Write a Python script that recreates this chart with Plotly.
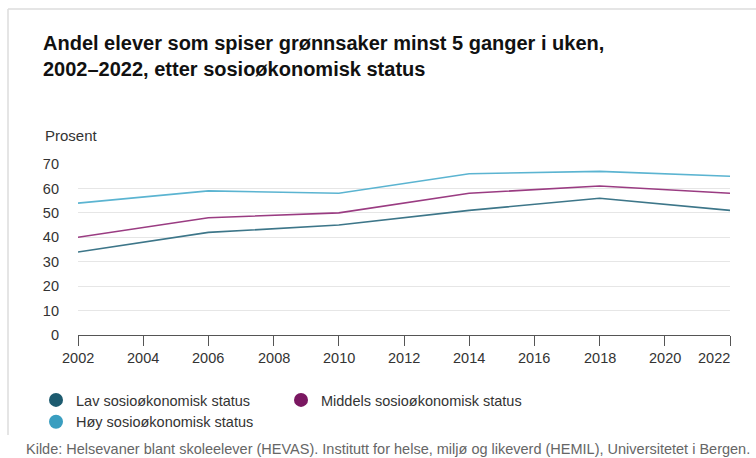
import plotly.graph_objects as go

years = [2002, 2006, 2010, 2014, 2018, 2022]
lav = [34, 42, 45, 51, 56, 51]
middels = [40, 48, 50, 58, 61, 58]
hoy = [54, 59, 58, 66, 67, 65]

series_names = ["Lav sosioøkonomisk status", "Middels sosioøkonomisk status", "Høy sosioøkonomisk status"]
series_values = [lav, middels, hoy]
marker_colors = ["#1d5b6f", "#7a1761", "#3a9ec0"]
line_colors = ["#3d7689", "#9a3c82", "#5bb4d1"]

x_ticks = list(range(2002, 2023, 2))
y_ticks = [0, 10, 20, 30, 40, 50, 60, 70]

W, H = 756, 458
L, R, T, B = 78, 26, 164, 123
pw, ph = W - L - R, H - T - B

def px(xp):
    return (xp - L) / pw

def py(yp):
    return (H - B - yp) / ph

fig = go.Figure()
for name, vals, lc in zip(series_names, series_values, line_colors):
    fig.add_trace(go.Scatter(x=years, y=vals, mode="lines", name=name,
                             line=dict(color=lc, width=1.6), showlegend=False,
                             hoverinfo="x+y+name"))
for name, mc in zip(series_names, marker_colors):
    fig.add_trace(go.Scatter(x=[None], y=[None], mode="markers", name=name,
                             marker=dict(color=mc, size=14, symbol="circle")))

annotations = []
for i, t in enumerate(x_ticks):
    last = i == len(x_ticks) - 1
    annotations.append(dict(x=t, y=py(358), xref="x", yref="paper", text=str(t),
                            showarrow=False, xanchor="right" if last else "center",
                            xshift=2 if last else 0, yanchor="middle",
                            font=dict(size=14.5, color="#333333")))
annotations.append(dict(x=px(43), y=py(135), xref="paper", yref="paper", text="Prosent",
                        showarrow=False, xanchor="left", yanchor="middle",
                        font=dict(size=15, color="#333333")))
annotations.append(dict(x=px(24), y=py(449), xref="paper", yref="paper",
                        text="Kilde: Helsevaner blant skoleelever (HEVAS). Institutt for helse, miljø og likeverd (HEMIL), Universitetet i Bergen.",
                        showarrow=False, xanchor="left", yanchor="middle",
                        font=dict(size=14.5, color="#666666")))

shapes = [
    dict(type="line", xref="paper", yref="paper", x0=px(8), x1=px(8), y0=py(435), y1=py(9),
         line=dict(color="#dddddd", width=1.5)),
    dict(type="line", xref="paper", yref="paper", x0=px(8), x1=px(760), y0=py(9), y1=py(9),
         line=dict(color="#dddddd", width=1.5)),
]

fig.update_layout(
    width=W, height=H,
    margin=dict(l=L, r=R, t=T, b=B),
    paper_bgcolor="white", plot_bgcolor="white",
    font=dict(family="Liberation Sans, Arial, sans-serif", size=14, color="#333333"),
    title=dict(text="<b>Andel elever som spiser grønnsaker minst 5 ganger i uken,<br>2002–2022, etter sosioøkonomisk status</b>",
               x=43 / W, xanchor="left", xref="container",
               y=1 - 50 / H, yanchor="top", yref="container",
               font=dict(size=20, color="#111111")),
    xaxis=dict(range=[2002, 2022], tickvals=x_ticks, showticklabels=False,
               ticks="outside", ticklen=10, tickcolor="#555555", tickwidth=1,
               showline=True, linecolor="#555555", linewidth=1, showgrid=False,
               zeroline=False, fixedrange=True),
    yaxis=dict(range=[0, 70], tickvals=y_ticks, showgrid=True, gridcolor="#e6e6e6",
               gridwidth=1, zeroline=False, showline=False, ticks="",
               ticklabelstandoff=18, tickfont=dict(size=14.5, color="#333333"),
               fixedrange=True),
    legend=dict(orientation="h", x=px(36), y=py(384), xanchor="left", yanchor="top",
                entrywidth=200, entrywidthmode="pixels", font=dict(size=14.5, color="#333333"),
                itemclick=False, itemdoubleclick=False, tracegroupgap=0,
                bgcolor="rgba(0,0,0,0)"),
    annotations=annotations,
    shapes=shapes,
    showlegend=True,
)

fig.write_html("out.html")
